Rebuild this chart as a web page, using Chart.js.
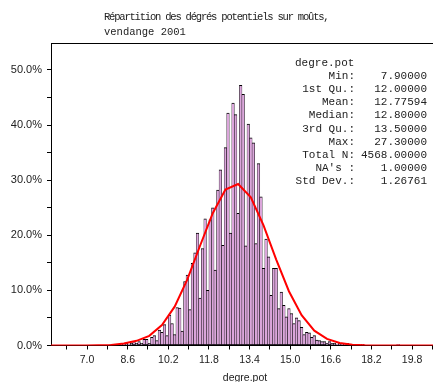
<!DOCTYPE html>
<html>
<head>
<meta charset="utf-8">
<script src="https://cdn.jsdelivr.net/npm/chart.js@4.4.0/dist/chart.umd.min.js"></script>
<style>
  html, body { margin: 0; padding: 0; background: #fff; overflow: hidden; }
  #wrap { width: 433px; height: 382px; overflow: hidden; }
</style>
</head>
<body>
<div id="wrap"><canvas id="histo" width="450" height="382"></canvas></div>
<script>
// histogramme des degres (densite en %, classes de 0.1)
const binStart = 7.9;
const binWidth = 0.1;
const density = [
  0.2, 0.0, 0.2, 0.0, 0.2, 0.2, 0.4, 0.2, 0.4, 0.7,   // 7.9 - 8.8
  0.4, 0.7, 0.4, 1.1, 1.1, 0.4, 1.5, 1.8, 0.9, 2.8,   // 8.9 - 9.8
  2.4, 3.8, 1.8, 5.5, 4.0, 2.0, 6.9, 6.8, 2.6, 11.6,  // 9.9 - 10.8
  12.8, 6.5, 14.9, 16.8, 20.4, 8.6, 17.6, 23.0, 10.0, 22.8, // 10.9 - 11.8
  25.0, 13.7, 28.2, 31.9, 18.2, 35.9, 42.2, 20.4, 44.0, 41.9, // 11.9 - 12.8
  24.0, 47.2, 45.6, 18.1, 40.2, 37.7, 36.8, 18.5, 33.0, 27.0, // 12.9 - 13.8
  14.0, 19.3, 16.1, 9.1, 14.0, 14.0, 6.7, 9.7, 7.3, 5.2,      // 13.9 - 14.8
  6.7, 5.8, 4.0, 5.0, 4.5, 3.3, 2.0, 2.4, 2.3, 1.5,           // 14.9 - 15.8
  1.8, 1.0, 0.9, 0.7, 0.7, 0.4, 0.7, 0.4, 0.4, 0.2,           // 15.9 - 16.8
  0.4, 0.2, 0.2, 0.4, 0.0, 0.2, 0.0, 0.2, 0.0, 0.2,           // 16.9 - 17.8
  0.0, 0.0, 0.0, 0.0, 0.0, 0.0, 0.0, 0.0, 0.0, 0.0,           // 17.9 - 18.8
  0.0, 0.0, 0.0, 0.2                                          // 18.9 - 19.2
];

// courbe normale
const curveX = [5.45, 5.95, 6.45, 6.95, 7.45, 7.95, 8.45, 8.95, 9.45, 9.95,
  10.45, 10.95, 11.45, 11.95, 12.45, 12.95, 13.45, 13.95, 14.45, 14.95,
  15.45, 15.95, 16.45, 16.95, 17.45, 17.95, 18.45, 18.95, 19.45, 19.95, 20.45, 20.95];
const curveY = [0, 0, 0, 0.01, 0.03, 0.1, 0.35, 0.85, 1.75, 3.7,
  7.05, 12.0, 18.1, 24.0, 28.3, 29.3, 26.9, 21.8, 15.6, 9.85,
  5.5, 2.7, 1.2, 0.45, 0.15, 0.05, 0.01, 0, 0, 0, 0, 0];

const xTicks = [6.2, 7.0, 7.8, 8.6, 9.4, 10.2, 11.0, 11.8, 12.6, 13.4, 14.2, 15.0, 15.8, 16.6, 17.4, 18.2, 19.0, 19.8, 20.6];
const xLabels = ["", "7.0", "", "8.6", "", "10.2", "", "11.8", "", "13.4", "", "15.0", "", "16.6", "", "18.2", "", "19.8", ""];
const yTicks = [0, 5, 10, 15, 20, 25, 30, 35, 40, 45, 50];
const yLabels = ["0.0%", "", "10.0%", "", "20.0%", "", "30.0%", "", "40.0%", "", "50.0%"];

const titleLines = ["Répartition des dégrés potentiels sur moûts,", "vendange 2001"];
const xTitle = "degre.pot";
const statHead = "degre.pot";
const statLabels = ["Min:", "1st Qu.:", "Mean:", "Median:", "3rd Qu.:", "Max:", "Total N:", "NA's :", "Std Dev.:"];
const statValues = ["7.90000", "12.00000", "12.77594", "12.80000", "13.50000", "27.30000", "4568.00000", "1.00000", "1.26761"];

const bars = density.map((d, i) => ({ x: binStart + i * binWidth + binWidth / 2, y: d }));
const curve = curveX.map((x, i) => ({ x: x, y: curveY[i] }));

const mono = '"Liberation Mono", "Courier New", monospace';
const sans = '"Liberation Sans", Arial, sans-serif';

const textPlugin = {
  id: 'textPlugin',
  afterDraw(chart) {
    const ctx = chart.ctx;
    const a = chart.chartArea;
    ctx.save();
    // cadre du haut
    ctx.strokeStyle = '#000';
    ctx.lineWidth = 1;
    ctx.beginPath();
    ctx.moveTo(a.left, Math.round(a.top) + 0.5);
    ctx.lineTo(a.right, Math.round(a.top) + 0.5);
    ctx.stroke();

    // titre
    ctx.fillStyle = '#222';
    ctx.font = '10.5px ' + mono;
    ctx.textBaseline = 'middle';
    ctx.textAlign = 'left';
    ctx.letterSpacing = '-1.2px';
    ctx.fillText(titleLines[0], 104, 17, 226);
    ctx.letterSpacing = '0px';
    ctx.fillText(titleLines[1], 104, 32);

    // resume statistique
    ctx.font = '11px ' + mono;
    ctx.fillText(statHead, 295, 63);
    for (let i = 0; i < statLabels.length; i++) {
      const y = 76 + i * 13.15;
      ctx.textAlign = 'right';
      ctx.fillText(statLabels[i], 355, y);
      ctx.fillText(statValues[i], 427, y);
    }

    ctx.font = '10.5px ' + sans;
    ctx.textAlign = 'center';
    ctx.fillText(xTitle, 245, 378);
    ctx.restore();
  }
};

new Chart(document.getElementById('histo'), {
  data: {
    datasets: [
      {
        type: 'line',
        data: curve,
        borderColor: '#ff0000',
        borderWidth: 2,
        pointRadius: 0,
        tension: 0,
        order: 0
      },
      {
        type: 'bar',
        data: bars,
        backgroundColor: '#dba6db',
        borderColor: '#000',
        borderWidth: { top: 1, bottom: 1, left: 0.5, right: 0.5 },
        borderSkipped: false,
        barPercentage: 1,
        categoryPercentage: 1,
        order: 1
      }
    ]
  },
  options: {
    responsive: false,
    animation: false,
    layout: { padding: { top: 43, right: 10, left: 0, bottom: 0 } },
    plugins: { legend: { display: false }, tooltip: { enabled: false } },
    scales: {
      x: {
        type: 'linear',
        offset: false,
        min: 5.58,
        max: 20.9,
        afterBuildTicks: s => { s.ticks = xTicks.map(v => ({ value: v })); },
        afterFit: s => { s.height = 36.5; },
        ticks: {
          callback: (v, i) => xLabels[i],
          autoSkip: false, maxRotation: 0,
          padding: 4,
          color: '#222',
          font: { family: sans, size: 10.5 }
        },
        grid: { offset: false, drawOnChartArea: false, drawTicks: true, tickLength: 4, color: '#000' },
        border: { color: '#000', width: 1 }
      },
      y: {
        min: 0,
        max: 54.9,
        afterBuildTicks: s => { s.ticks = yTicks.map(v => ({ value: v })); },
        afterFit: s => { s.width = 51; },
        ticks: {
          callback: (v, i) => yLabels[i],
          autoSkip: false,
          padding: 5,
          color: '#222',
          font: { family: sans, size: 11 }
        },
        grid: { drawOnChartArea: false, drawTicks: true, tickLength: 4, color: '#000' },
        border: { color: '#000', width: 1 }
      }
    }
  },
  plugins: [textPlugin]
});
</script>
</body>
</html>
